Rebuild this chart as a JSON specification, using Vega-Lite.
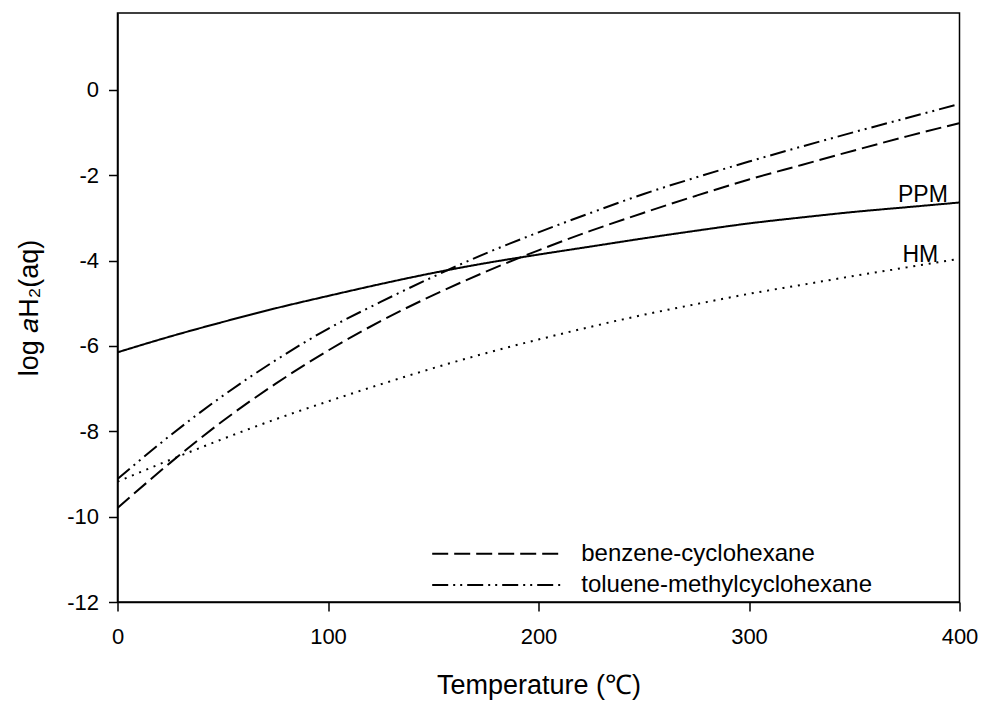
{
  "$schema": "https://vega.github.io/schema/vega-lite/v6.json",
  "width": 842,
  "height": 589,
  "autosize": {"type": "none"},
  "padding": {"left": 117.5, "top": 13, "right": 25, "bottom": 101},
  "background": "white",
  "datasets": {
    "curves": [
      {"series": "PPM", "T": 0, "v": -6.15}, {"series": "PPM", "T": 25, "v": -5.78}, {"series": "PPM", "T": 50, "v": -5.44}, {"series": "PPM", "T": 75, "v": -5.12}, {"series": "PPM", "T": 100, "v": -4.83}, {"series": "PPM", "T": 125, "v": -4.55}, {"series": "PPM", "T": 150, "v": -4.29}, {"series": "PPM", "T": 175, "v": -4.06}, {"series": "PPM", "T": 200, "v": -3.86}, {"series": "PPM", "T": 225, "v": -3.67}, {"series": "PPM", "T": 250, "v": -3.48}, {"series": "PPM", "T": 275, "v": -3.30}, {"series": "PPM", "T": 300, "v": -3.13}, {"series": "PPM", "T": 325, "v": -2.99}, {"series": "PPM", "T": 350, "v": -2.86}, {"series": "PPM", "T": 375, "v": -2.75}, {"series": "PPM", "T": 400, "v": -2.64},
      {"series": "benzene-cyclohexane", "T": 0, "v": -9.80}, {"series": "benzene-cyclohexane", "T": 25, "v": -8.74}, {"series": "benzene-cyclohexane", "T": 50, "v": -7.76}, {"series": "benzene-cyclohexane", "T": 75, "v": -6.89}, {"series": "benzene-cyclohexane", "T": 100, "v": -6.11}, {"series": "benzene-cyclohexane", "T": 125, "v": -5.42}, {"series": "benzene-cyclohexane", "T": 150, "v": -4.81}, {"series": "benzene-cyclohexane", "T": 175, "v": -4.26}, {"series": "benzene-cyclohexane", "T": 200, "v": -3.76}, {"series": "benzene-cyclohexane", "T": 225, "v": -3.30}, {"series": "benzene-cyclohexane", "T": 250, "v": -2.88}, {"series": "benzene-cyclohexane", "T": 275, "v": -2.48}, {"series": "benzene-cyclohexane", "T": 300, "v": -2.10}, {"series": "benzene-cyclohexane", "T": 325, "v": -1.76}, {"series": "benzene-cyclohexane", "T": 350, "v": -1.42}, {"series": "benzene-cyclohexane", "T": 375, "v": -1.09}, {"series": "benzene-cyclohexane", "T": 400, "v": -0.78},
      {"series": "toluene-methylcyclohexane", "T": 0, "v": -9.12}, {"series": "toluene-methylcyclohexane", "T": 25, "v": -8.10}, {"series": "toluene-methylcyclohexane", "T": 50, "v": -7.17}, {"series": "toluene-methylcyclohexane", "T": 75, "v": -6.34}, {"series": "toluene-methylcyclohexane", "T": 100, "v": -5.60}, {"series": "toluene-methylcyclohexane", "T": 125, "v": -4.97}, {"series": "toluene-methylcyclohexane", "T": 150, "v": -4.38}, {"series": "toluene-methylcyclohexane", "T": 175, "v": -3.83}, {"series": "toluene-methylcyclohexane", "T": 200, "v": -3.34}, {"series": "toluene-methylcyclohexane", "T": 225, "v": -2.88}, {"series": "toluene-methylcyclohexane", "T": 250, "v": -2.44}, {"series": "toluene-methylcyclohexane", "T": 275, "v": -2.05}, {"series": "toluene-methylcyclohexane", "T": 300, "v": -1.68}, {"series": "toluene-methylcyclohexane", "T": 325, "v": -1.33}, {"series": "toluene-methylcyclohexane", "T": 350, "v": -0.99}, {"series": "toluene-methylcyclohexane", "T": 375, "v": -0.66}, {"series": "toluene-methylcyclohexane", "T": 400, "v": -0.33},
      {"series": "HM", "T": 0, "v": -9.18}, {"series": "HM", "T": 25, "v": -8.67}, {"series": "HM", "T": 50, "v": -8.18}, {"series": "HM", "T": 75, "v": -7.72}, {"series": "HM", "T": 100, "v": -7.30}, {"series": "HM", "T": 125, "v": -6.90}, {"series": "HM", "T": 150, "v": -6.52}, {"series": "HM", "T": 175, "v": -6.17}, {"series": "HM", "T": 200, "v": -5.85}, {"series": "HM", "T": 225, "v": -5.55}, {"series": "HM", "T": 250, "v": -5.27}, {"series": "HM", "T": 275, "v": -5.02}, {"series": "HM", "T": 300, "v": -4.78}, {"series": "HM", "T": 325, "v": -4.57}, {"series": "HM", "T": 350, "v": -4.36}, {"series": "HM", "T": 375, "v": -4.16}, {"series": "HM", "T": 400, "v": -3.96}
    ],
    "legendRows": [
      {"series": "benzene-cyclohexane", "T": 149.5, "T2": 210.3, "v": -10.87},
      {"series": "toluene-methylcyclohexane", "T": 149.5, "T2": 210.3, "v": -11.6}
    ],
    "legendText": [
      {"label": "benzene-cyclohexane", "T": 220.3, "v": -10.87},
      {"label": "toluene-methylcyclohexane", "T": 220.3, "v": -11.6}
    ],
    "curveLabels": [
      {"label": "PPM", "T": 382.6, "v": -2.46},
      {"label": "HM", "T": 381.4, "v": -3.87}
    ]
  },
  "layer": [
    {
      "data": {"name": "curves"},
      "mark": {"type": "line", "interpolate": "monotone", "strokeWidth": 2, "color": "black", "strokeCap": "butt"},
      "encoding": {
        "x": {"field": "T", "type": "quantitative", "scale": {"domain": [0, 400], "nice": false, "zero": false},
              "axis": {"title": "Temperature (℃)", "values": [0, 100, 200, 300, 400], "labelFlush": false, "labelPadding": 15, "titleY": 91, "titleBaseline": "alphabetic", "labelExpr": "datum.value + ''"}},
        "y": {"field": "v", "type": "quantitative", "scale": {"domain": [-12, 1.8], "nice": false, "zero": false},
              "axis": {"title": "log 𝑎H₂(aq)", "values": [-12, -10, -8, -6, -4, -2, 0], "labelPadding": 10, "titleX": -80, "titleBaseline": "alphabetic", "labelExpr": "datum.value + ''"}},
        "detail": {"field": "series"},
        "strokeDash": {"field": "series", "type": "nominal", "legend": null,
          "scale": {"domain": ["PPM", "benzene-cyclohexane", "toluene-methylcyclohexane", "HM"], "range": [[1, 0], [16, 6], [16, 5, 2, 5, 2, 5], [2, 5.8]]}}
      }
    },
    {
      "data": {"name": "legendRows"},
      "mark": {"type": "rule", "strokeWidth": 2, "color": "black", "strokeCap": "butt"},
      "encoding": {
        "x": {"field": "T", "type": "quantitative"},
        "x2": {"field": "T2"},
        "y": {"field": "v", "type": "quantitative"},
        "strokeDash": {"field": "series", "type": "nominal", "legend": null}
      }
    },
    {
      "data": {"name": "legendText"},
      "mark": {"type": "text", "align": "left", "baseline": "middle", "font": "Liberation Sans", "fontSize": 24, "color": "black"},
      "encoding": {
        "x": {"field": "T", "type": "quantitative"},
        "y": {"field": "v", "type": "quantitative"},
        "text": {"field": "label"}
      }
    },
    {
      "data": {"name": "curveLabels"},
      "mark": {"type": "text", "align": "center", "baseline": "middle", "font": "Liberation Sans", "fontSize": 23, "color": "black"},
      "encoding": {
        "x": {"field": "T", "type": "quantitative"},
        "y": {"field": "v", "type": "quantitative"},
        "text": {"field": "label"}
      }
    }
  ],
  "config": {
    "view": {"stroke": "black", "strokeWidth": 1.5},
    "axis": {
      "grid": false,
      "domainColor": "black", "domainWidth": 1.5,
      "tickColor": "black", "tickWidth": 1.5, "tickSize": 9,
      "labelFont": "Liberation Sans", "labelFontSize": 22, "labelColor": "black",
      "titleFont": "Liberation Sans", "titleFontSize": 27, "titleFontWeight": "normal", "titleColor": "black"
    }
  }
}
